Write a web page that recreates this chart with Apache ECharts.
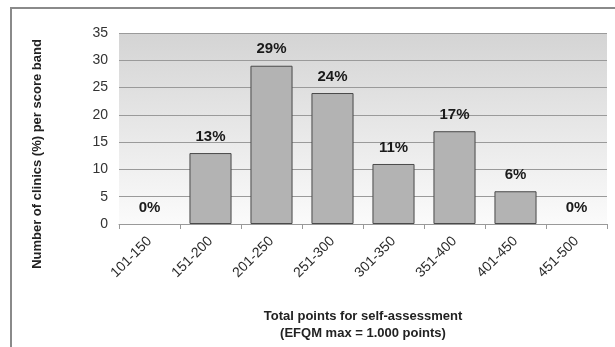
<!DOCTYPE html>
<html>
<head>
<meta charset="utf-8">
<script src="https://cdn.jsdelivr.net/npm/echarts@6/dist/echarts.min.js"></script>
<style>
  html, body { margin: 0; padding: 0; background: #fff; }
  #chart { width: 615px; height: 347px; }
</style>
</head>
<body>
<div id="chart"></div>
<script>
// score bands (x axis)
const bands = ['101-150', '151-200', '201-250', '251-300', '301-350', '351-400', '401-450', '451-500'];
// share of clinics per band, %
const clinicShare = [0, 13, 29, 24, 11, 17, 6, 0];
const yTicks = { min: 0, max: 35, interval: 5 };

const chart = echarts.init(document.getElementById('chart'));
chart.setOption({
  animation: false,
  backgroundColor: '#fff',
  textStyle: { fontFamily: 'Liberation Sans, Arial, sans-serif' },
  grid: {
    left: 119,
    right: 8,
    top: 33,
    bottom: 121,
    show: true,
    borderWidth: 0,
    backgroundColor: {
      type: 'linear', x: 0, y: 0, x2: 0, y2: 1,
      colorStops: [
        { offset: 0, color: '#d4d4d4' },
        { offset: 1, color: '#fbfbfb' }
      ]
    }
  },
  graphic: [
    {
      type: 'polyline',
      shape: { points: [[11, 347], [11, 8], [615, 8]] },
      style: { stroke: '#8a8a8a', lineWidth: 2, fill: null }
    },
    {
      type: 'text',
      x: 37,
      y: 154,
      rotation: Math.PI / 2,
      style: {
        text: 'Number of clinics (%) per score band',
        font: 'bold 13px Liberation Sans, Arial, sans-serif',
        fill: '#222',
        align: 'center',
        verticalAlign: 'middle'
      }
    }
  ],
  xAxis: {
    type: 'category',
    data: bands,
    name: 'Total points for self-assessment\n(EFQM max = 1.000 points)',
    nameLocation: 'middle',
    nameGap: 84,
    nameTextStyle: { fontWeight: 'bold', fontSize: 13, color: '#222', lineHeight: 17 },
    axisLine: { lineStyle: { color: '#999' } },
    axisTick: { show: true, length: 5, lineStyle: { color: '#999' } },
    axisLabel: { rotate: 45, fontSize: 14, color: '#2a2a2a', margin: 15, interval: 0 },
    splitLine: { show: false }
  },
  yAxis: {
    type: 'value',
    min: yTicks.min,
    max: yTicks.max,
    interval: yTicks.interval,
    axisLine: { show: false },
    axisTick: { show: false },
    axisLabel: { fontSize: 14, color: '#333', margin: 11 },
    splitLine: { lineStyle: { color: '#9a9a9a', width: 1 } }
  },
  series: [
    {
      type: 'bar',
      // empty bands keep their label but draw no bar outline
      data: clinicShare.map(v => v === 0
        ? { value: v, itemStyle: { color: 'transparent', borderWidth: 0 } }
        : v),
      barCategoryGap: '31%',
      itemStyle: { color: '#b3b3b3', borderColor: '#4a4a4a', borderWidth: 1 },
      label: {
        show: true,
        position: 'top',
        distance: 9,
        formatter: '{c}%',
        fontSize: 15,
        fontWeight: 'bold',
        color: '#1a1a1a'
      }
    }
  ]
});
</script>
</body>
</html>
